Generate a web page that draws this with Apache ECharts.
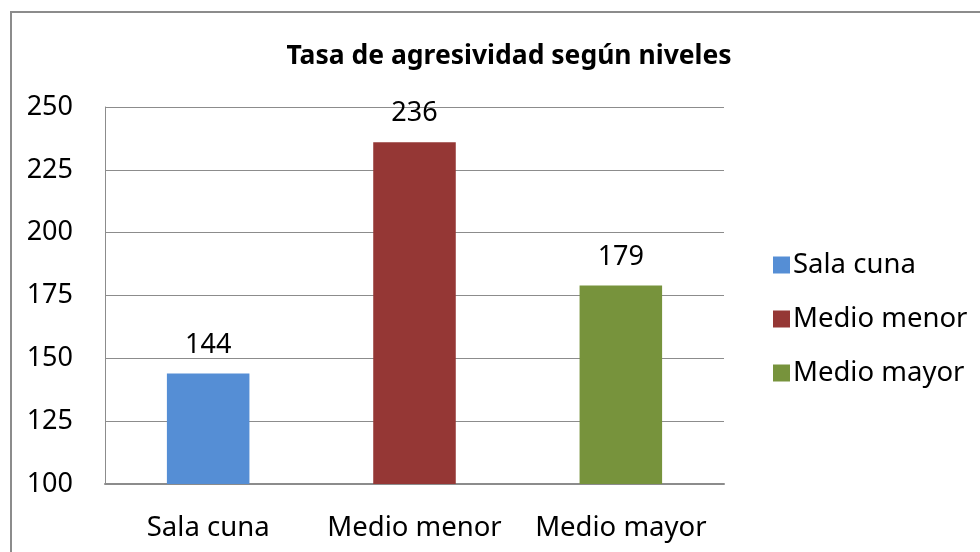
<!DOCTYPE html>
<html>
<head>
<meta charset="utf-8">
<script src="https://cdn.jsdelivr.net/npm/echarts@6/dist/echarts.min.js"></script>
<style>
  html, body { margin: 0; padding: 0; background: #fff; }
  #chart { width: 980px; height: 552px; }
</style>
</head>
<body>
<div id="chart"></div>
<script>
const chart = echarts.init(document.getElementById('chart'));

const categories = ['Sala cuna', 'Medio menor', 'Medio mayor'];
const values = [144, 236, 179];
const colors = ['#558ED5', '#953735', '#77933C'];

const yMin = 100;
const yMax = 250;
const yStep = 25;

const font = '"Noto Sans", "Open Sans", sans-serif';

// one series per level so the legend lists them, stacked so bars stay centred
const series = categories.map(function (name, i) {
  return {
    name: name,
    type: 'bar',
    stack: 'all',
    barWidth: '40%',
    itemStyle: { color: colors[i] },
    label: {
      show: true,
      position: 'top',
      distance: 15,
      color: '#000',
      fontSize: 27,
      fontFamily: font
    },
    data: values.map(function (v, j) { return j === i ? v : '-'; })
  };
});

const option = {
  animation: false,
  backgroundColor: '#fff',

  graphic: [{
    type: 'rect',
    shape: { x: 11, y: 12, width: 1000, height: 600 },
    style: { fill: 'none', stroke: '#8c8c8c', lineWidth: 2 }
  }],

  title: {
    text: 'Tasa de agresividad según niveles',
    left: 504,
    top: 38,
    textAlign: 'center',
    textStyle: {
      color: '#000',
      fontSize: 26.5,
      fontWeight: 'bold',
      fontFamily: font
    }
  },

  legend: {
    orient: 'vertical',
    left: 768,
    top: 245,
    icon: 'rect',
    itemWidth: 17,
    itemHeight: 17,
    itemGap: 24,
    textStyle: {
      color: '#000',
      fontSize: 27.5,
      lineHeight: 30,
      fontFamily: font,
      padding: [0, 0, 0, -2]
    },
    data: categories
  },

  grid: {
    left: 105,
    right: 256,
    top: 107,
    bottom: 68
  },

  xAxis: {
    type: 'category',
    data: categories,
    axisTick: { show: false },
    axisLine: { lineStyle: { color: '#8c8c8c', width: 2 } },
    axisLabel: {
      interval: 0,
      hideOverlap: false,
      color: '#000',
      fontSize: 27.5,
      fontFamily: font,
      margin: 30
    }
  },

  yAxis: {
    type: 'value',
    min: yMin,
    max: yMax,
    interval: yStep,
    axisLine: { show: true, lineStyle: { color: '#8c8c8c', width: 1 } },
    axisTick: { show: false },
    splitLine: { lineStyle: { color: '#8c8c8c', width: 1 } },
    axisLabel: {
      color: '#000',
      fontSize: 27,
      fontFamily: font,
      margin: 32
    }
  },

  series: series
};

chart.setOption(option);
</script>
</body>
</html>
